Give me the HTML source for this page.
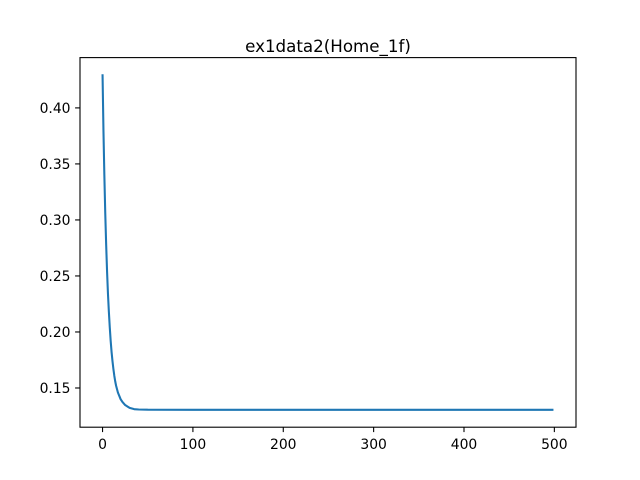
<!DOCTYPE html>
<html><head><meta charset="utf-8">
<style>body{margin:0;background:#fff}svg{display:block;font-family:"DejaVu Sans","Liberation Sans",sans-serif}</style>
</head><body>
<svg id="chart" width="640" height="480" xmlns="http://www.w3.org/2000/svg">
<rect width="640" height="480" fill="#fff"/>
<text x="328" y="52" text-anchor="middle" font-size="16.7">ex1data2(Home_1f)</text>
<g id="plot"></g>
<rect x="80" y="57.6" width="496" height="369.6" fill="none" stroke="#000" stroke-width="1.1"/>
</svg>
<script>
const xs=[0,1,2,3,4,5,6,7,8,9,10,11,12,13,14,15,16,17,18,19,20,22,25,30,35,40,50,100,200,300,400,499];
const ys=[0.430,0.380,0.340,0.306,0.278,0.254,0.234,0.218,0.204,0.192,0.182,0.174,0.167,0.161,0.156,0.152,0.149,0.146,0.144,0.142,0.140,0.1375,0.1348,0.1322,0.1311,0.1308,0.1306,0.1305,0.1305,0.1305,0.1305,0.1305];
const xTicks=[0,100,200,300,400,500];
const yTicks=[0.15,0.20,0.25,0.30,0.35,0.40];
const xTickLabels=["0","100","200","300","400","500"];
const yTickLabels=["0.15","0.20","0.25","0.30","0.35","0.40"];
const L=80,R=576,T=57.6,B=427.2;
const xmin=-24.95,xmax=523.95,ymin=0.115,ymax=0.4449;
const sx=v=>L+(v-xmin)/(xmax-xmin)*(R-L);
const sy=v=>B-(v-ymin)/(ymax-ymin)*(B-T);
const g=document.getElementById('plot');
const NS="http://www.w3.org/2000/svg";
function mk(t,a){const e=document.createElementNS(NS,t);for(const k in a)e.setAttribute(k,a[k]);g.appendChild(e);return e;}
xTicks.forEach((v,i)=>{
 const l=mk('line',{x1:sx(v),x2:sx(v),y1:B,y2:B+4.9,stroke:'#000','stroke-width':'1.1'});
 
 
 const t=mk('text',{x:sx(v),y:B+22,'text-anchor':'middle','font-size':'13.9'});
 t.textContent=xTickLabels[i];
 
 
});
yTicks.forEach((v,i)=>{
 const l=mk('line',{x1:L-4.9,x2:L,y1:sy(v),y2:sy(v),stroke:'#000','stroke-width':'1.1'});
 
 
 const t=mk('text',{x:L-9.5,y:sy(v)+5,'text-anchor':'end','font-size':'13.9'});
 t.textContent=yTickLabels[i];
 
 
});
const p=mk('polyline',{points:xs.map((x,i)=>sx(x)+','+sy(ys[i])).join(' '),fill:'none',stroke:'#1f77b4','stroke-width':'2.08','stroke-linejoin':'round'});


</script>
</body></html>
